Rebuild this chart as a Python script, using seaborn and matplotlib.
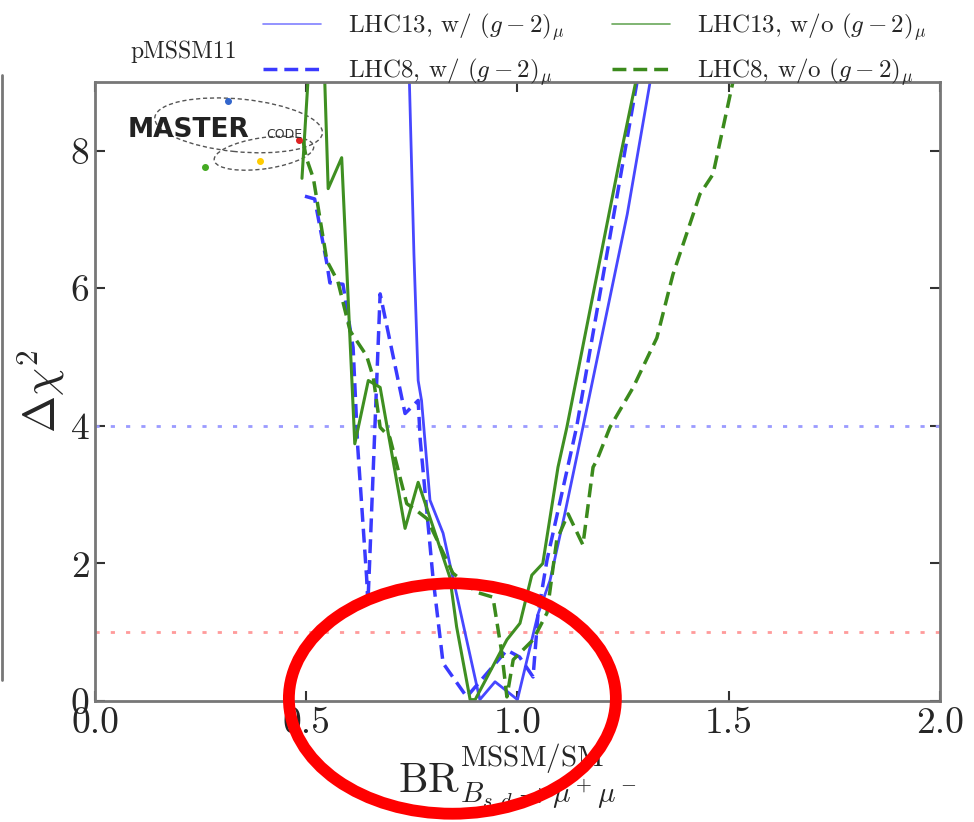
import matplotlib
matplotlib.use("Agg")
import matplotlib.pyplot as plt
import seaborn as sns
import pandas as pd
from matplotlib.patches import Ellipse
from matplotlib.lines import Line2D

# curve values
lhc13_w_x = [0.743, 0.755, 0.765, 0.773, 0.793, 0.824, 0.847, 0.911, 0.947, 1.0,
             1.049, 1.077, 1.112, 1.155, 1.219, 1.26, 1.314]
lhc13_w_y = [9.3, 6.5, 4.66, 4.37, 2.92, 2.44, 1.8, 0.02, 0.28, 0.02,
             1.27, 1.75, 2.72, 3.98, 5.87, 7.08, 9.0]

lhc8_w_x = [0.497, 0.52, 0.549, 0.556, 0.587, 0.611, 0.622, 0.643, 0.646, 0.65,
            0.675, 0.734, 0.765, 0.77, 0.8, 0.824, 0.88, 0.975, 1.005, 1.037,
            1.049, 1.07, 1.14, 1.283]
lhc8_w_y = [7.34, 7.3, 6.36, 6.08, 6.06, 5.14, 3.69, 1.8, 1.42, 2.0,
            5.92, 4.18, 4.37, 3.79, 1.8, 0.55, 0.06, 0.74, 0.64, 0.35,
            1.28, 2.05, 3.98, 9.0]

lhc13_wo_x = [0.49, 0.504, 0.52, 0.544, 0.552, 0.584, 0.615, 0.647, 0.675, 0.734,
              0.765, 0.84, 0.856, 0.888, 0.9, 0.975, 1.006, 1.034, 1.06, 1.096,
              1.117, 1.243, 1.28]
lhc13_wo_y = [7.6, 9.0, 10.5, 9.0, 7.45, 7.9, 3.74, 4.66, 4.56, 2.51,
              3.18, 1.8, 1.08, 0.02, 0.02, 0.89, 1.13, 1.83, 2.0, 3.4,
              3.98, 7.9, 9.0]

lhc8_wo_x = [0.493, 0.50, 0.517, 0.549, 0.575, 0.604, 0.643, 0.659, 0.675, 0.698,
             0.738, 0.761, 0.786, 0.847, 0.904, 0.942, 0.963, 0.975, 0.99, 1.037,
             1.07, 1.093, 1.12, 1.155, 1.179, 1.188, 1.219, 1.274, 1.33, 1.368,
             1.432, 1.463, 1.51]
lhc8_wo_y = [8.14, 7.9, 7.6, 6.4, 6.1, 5.38, 5.02, 4.7, 3.98, 3.83,
             2.87, 2.77, 2.65, 1.86, 1.58, 1.51, 0.7, 0.06, 0.6, 0.89,
             1.28, 2.34, 2.72, 2.27, 3.4, 3.5, 3.98, 4.56, 5.28, 6.2,
             7.37, 7.66, 9.0]

labels = [r"LHC13, w/ $(g-2)_\mu$", r"LHC8, w/ $(g-2)_\mu$",
          r"LHC13, w/o $(g-2)_\mu$", r"LHC8, w/o $(g-2)_\mu$"]
xticks = [0.0, 0.5, 1.0, 1.5, 2.0]
yticks = [0, 2, 4, 6, 8]

sns.set_style("ticks")
plt.rcParams['font.family'] = 'serif'
plt.rcParams['font.serif'] = ['cmr10', 'DejaVu Serif']
plt.rcParams['mathtext.fontset'] = 'cm'
plt.rcParams['axes.formatter.use_mathtext'] = True

fig = plt.figure(figsize=(9.74, 8.22), dpi=100)
ax = fig.add_axes([0.0975, 0.1472, 0.8675, 0.753])

blue = "#4747ff"
blue_d = "#3a3aff"
green = "#3f8f22"
green_d = "#3b8a1c"

# reference lines
ax.axhline(4, color="#9b9bff", ls=(0, (1.5, 4)), lw=2)
ax.axhline(1, color="#ff9b9b", ls=(0, (1.5, 4)), lw=2)

series = [
    (lhc13_w_x, lhc13_w_y, blue, "-", 2.0),
    (lhc8_w_x, lhc8_w_y, blue_d, (0, (4, 2)), 2.5),
    (lhc13_wo_x, lhc13_wo_y, green, "-", 2.2),
    (lhc8_wo_x, lhc8_wo_y, green_d, (0, (4, 2)), 2.5),
]
for xs, ys, col, ls, lw in series:
    d = pd.DataFrame({"x": xs, "y": ys})
    sns.lineplot(data=d, x="x", y="y", ax=ax, sort=False, estimator=None,
                 color=col, linestyle=ls, lw=lw)

ax.set_xlim(0, 2)
ax.set_ylim(0, 9)
ax.set_xticks(xticks)
ax.set_yticks(yticks)
ax.set_xticklabels([f"{t:.1f}" for t in xticks])
ax.tick_params(direction="in", top=True, right=True, length=7, width=1.5,
               labelsize=27, color="#333333", pad=4)
for s in ax.spines.values():
    s.set_color("#777777")
    s.set_linewidth(2)

ax.set_xlabel(r"$\mathrm{BR}^{\mathrm{MSSM/SM}}_{B_{s,d}\to\mu^+\mu^-}$",
              fontsize=30, labelpad=2)
ax.set_ylabel(r"$\Delta\chi^2$", fontsize=32, labelpad=2)

# masterCODE logo (approximation)
ax.text(0.039, 0.922, "MASTER", transform=ax.transAxes, fontsize=19,
        family="DejaVu Sans", weight="bold", color="#222222", va="center")
ax.text(0.203, 0.916, "CODE", transform=ax.transAxes, fontsize=9,
        family="DejaVu Sans", color="#333333", va="center")
ax.add_patch(Ellipse((0.17, 0.93), 0.2, 0.085, angle=-8, transform=ax.transAxes,
                     fill=False, ls=(0, (3, 2)), lw=1, color="#555555"))
ax.add_patch(Ellipse((0.2, 0.885), 0.12, 0.05, angle=12, transform=ax.transAxes,
                     fill=False, ls=(0, (3, 2)), lw=1, color="#555555"))
for px, py, c in [(0.157, 0.97, "#3366cc"), (0.242, 0.906, "#dd2222"),
                  (0.13, 0.862, "#44aa22"), (0.195, 0.873, "#ffcc00")]:
    ax.plot(px, py, "o", ms=4, color=c, transform=ax.transAxes)

# red annotation ellipse around the minimum
ax.add_patch(Ellipse((0.846, 0.036), 0.774, 3.35, fill=False, ec="#ff0000",
                     lw=8.5, clip_on=False, zorder=10))

# legend above the axes
handles = [
    Line2D([], [], color="#8080ff", lw=1.2),
    Line2D([], [], color=blue_d, lw=2.5, ls=(0, (4, 2))),
    Line2D([], [], color="#6aa85a", lw=1.2),
    Line2D([], [], color=green_d, lw=2.5, ls=(0, (4, 2))),
]
fig.legend(handles, labels, ncol=2, frameon=False, fontsize=18,
           loc="upper left", bbox_to_anchor=(253 / 974, 0.998),
           handlelength=2.3, labelspacing=0.5, columnspacing=1.9,
           handletextpad=1.1, borderaxespad=0, borderpad=0.4)

fig.text(130 / 974, 1 - 52 / 822, "pMSSM11", fontsize=17, va="center")

# sliver of the neighbouring panel at the left edge
fig.add_artist(Line2D([0.002, 0.002], [1 - 75 / 822, 1 - 680 / 822],
                      color="#777777", lw=2))

fig.savefig("out.png", dpi=100)
